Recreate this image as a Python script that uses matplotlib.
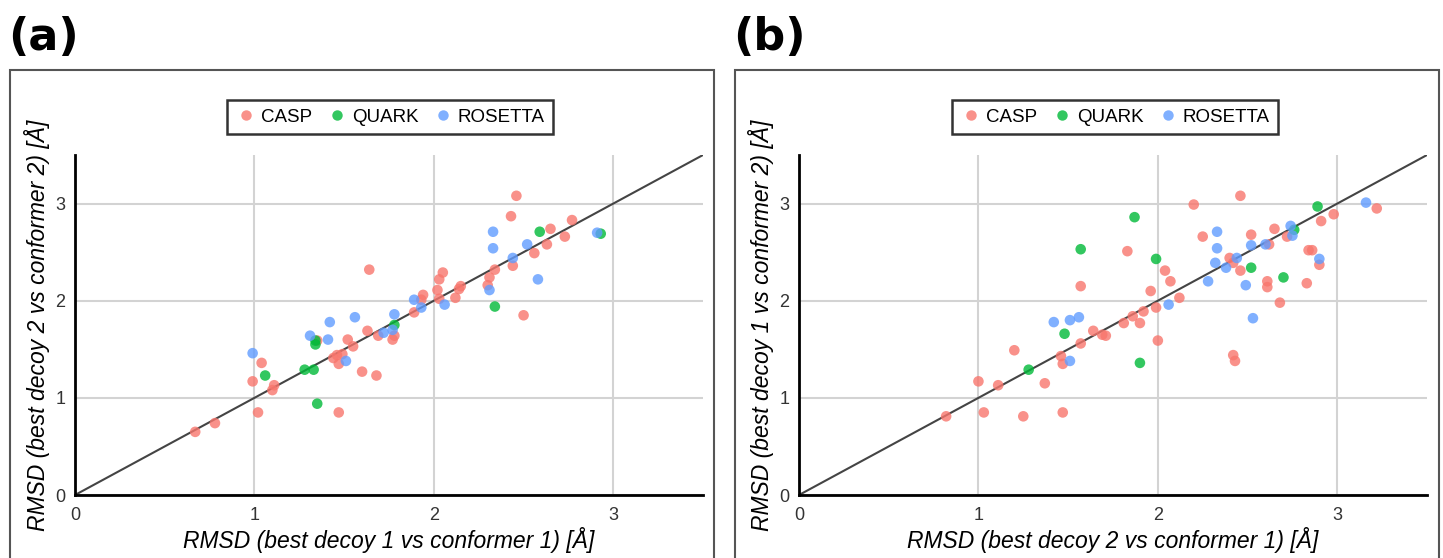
import matplotlib
matplotlib.use("Agg")
import matplotlib.pyplot as plt
from matplotlib.patches import Rectangle
from matplotlib.lines import Line2D

plt.rcParams["font.family"] = ["Liberation Sans", "DejaVu Sans"]

COLORS = {"CASP": "#F8766D", "QUARK": "#00BA38", "ROSETTA": "#619CFF"}
GROUPS = ["CASP", "QUARK", "ROSETTA"]

# panel (a): decoy 1 vs conformer 1 (x), decoy 2 vs conformer 2 (y)
a_casp_x = [0.67, 0.78, 0.99, 1.04, 1.02, 1.11, 1.10, 1.47, 1.60, 1.68, 1.64, 1.44, 1.47,
            1.49, 1.46, 1.52, 1.55, 1.63, 1.69, 1.78, 1.77, 1.89, 1.94, 1.93, 2.02, 2.03,
            2.05, 2.03, 2.12, 2.15, 2.14, 2.30, 2.31, 2.34, 2.44, 2.56, 2.63, 2.73, 2.65,
            2.77, 2.43, 2.46, 2.50, 1.35]
a_casp_y = [0.65, 0.74, 1.17, 1.36, 0.85, 1.13, 1.08, 0.85, 1.27, 1.23, 2.32, 1.41, 1.35,
            1.45, 1.44, 1.60, 1.53, 1.69, 1.64, 1.64, 1.60, 1.88, 2.06, 2.01, 2.11, 2.22,
            2.29, 2.02, 2.03, 2.15, 2.12, 2.16, 2.24, 2.32, 2.36, 2.49, 2.58, 2.66, 2.74,
            2.83, 2.87, 3.08, 1.85, 1.59]
a_quark_x = [1.06, 1.28, 1.33, 1.34, 1.34, 1.35, 1.78, 2.34, 2.59, 2.93]
a_quark_y = [1.23, 1.29, 1.29, 1.59, 1.55, 0.94, 1.75, 1.94, 2.71, 2.69]
a_rosetta_x = [0.99, 1.31, 1.41, 1.42, 1.56, 1.51, 1.72, 1.77, 1.78, 1.89, 1.93, 2.06,
               2.31, 2.33, 2.33, 2.44, 2.52, 2.58, 2.91]
a_rosetta_y = [1.46, 1.64, 1.60, 1.78, 1.83, 1.38, 1.67, 1.70, 1.86, 2.01, 1.93, 1.96,
               2.11, 2.71, 2.54, 2.44, 2.58, 2.22, 2.70]

# panel (b): decoy 2 vs conformer 1 (x), decoy 1 vs conformer 2 (y)
b_casp_x = [0.82, 1.00, 1.03, 1.11, 1.20, 1.25, 1.37, 1.47, 1.46, 1.47, 1.57, 1.57, 1.64,
            1.69, 1.71, 1.81, 1.86, 1.90, 1.92, 1.83, 1.96, 1.99, 2.00, 2.04, 2.07, 2.12,
            2.20, 2.25, 2.40, 2.42, 2.46, 2.42, 2.43, 2.46, 2.52, 2.62, 2.65, 2.72, 2.61,
            2.61, 2.68, 2.83, 2.84, 2.86, 2.90, 2.91, 2.98, 3.22]
b_casp_y = [0.81, 1.17, 0.85, 1.13, 1.49, 0.81, 1.15, 0.85, 1.43, 1.35, 1.56, 2.15, 1.69,
            1.65, 1.64, 1.77, 1.84, 1.77, 1.89, 2.51, 2.10, 1.93, 1.59, 2.31, 2.20, 2.03,
            2.99, 2.66, 2.44, 2.39, 2.31, 1.44, 1.38, 3.08, 2.68, 2.58, 2.74, 2.66, 2.20,
            2.14, 1.98, 2.18, 2.52, 2.52, 2.37, 2.82, 2.89, 2.95]
b_quark_x = [1.28, 1.48, 1.57, 1.87, 1.99, 1.90, 2.52, 2.70, 2.76, 2.89]
b_quark_y = [1.29, 1.66, 2.53, 2.86, 2.43, 1.36, 2.34, 2.24, 2.73, 2.97]
b_rosetta_x = [1.42, 1.51, 1.56, 1.51, 2.06, 2.28, 2.32, 2.33, 2.33, 2.38, 2.44, 2.49,
               2.52, 2.53, 2.60, 2.74, 2.75, 2.90, 3.16]
b_rosetta_y = [1.78, 1.80, 1.83, 1.38, 1.96, 2.20, 2.39, 2.71, 2.54, 2.34, 2.44, 2.16,
               2.57, 1.82, 2.58, 2.77, 2.67, 2.43, 3.01]

panels = [
    {
        "tag": "(a)",
        "data": {"CASP": (a_casp_x, a_casp_y), "QUARK": (a_quark_x, a_quark_y),
                 "ROSETTA": (a_rosetta_x, a_rosetta_y)},
        "xlabel": "RMSD (best decoy 1 vs conformer 1) [Å]",
        "ylabel": "RMSD (best decoy 2 vs conformer 2) [Å]",
    },
    {
        "tag": "(b)",
        "data": {"CASP": (b_casp_x, b_casp_y), "QUARK": (b_quark_x, b_quark_y),
                 "ROSETTA": (b_rosetta_x, b_rosetta_y)},
        "xlabel": "RMSD (best decoy 2 vs conformer 1) [Å]",
        "ylabel": "RMSD (best decoy 1 vs conformer 2) [Å]",
    },
]

W, H = 1443, 558
fig = plt.figure(figsize=(W / 100, H / 100), dpi=100)

offsets = [0, 725]
for panel, off in zip(panels, offsets):
    # frame around the panel
    fig.patches.append(Rectangle(((10 + off) / W, -0.05), 704 / W, 0.05 + (H - 70) / H,
                                 transform=fig.transFigure, fill=False,
                                 edgecolor="#555555", linewidth=1.5))
    fig.text((8 + off) / W, (H - 37) / H, panel["tag"], fontsize=32, fontweight="bold",
             family="DejaVu Sans", ha="left", va="center")

    ax = fig.add_axes([(75 + off - (1 if off else 0)) / W, (H - 495) / H, 628 / W, 340 / H])
    ax.set_xlim(0, 3.5)
    ax.set_ylim(0, 3.5)
    ax.set_xticks([0, 1, 2, 3])
    ax.set_yticks([0, 1, 2, 3])
    ax.grid(True, color="#d3d3d3", linewidth=1.5)
    ax.set_axisbelow(True)
    for side in ["top", "right"]:
        ax.spines[side].set_visible(False)
    for side in ["left", "bottom"]:
        ax.spines[side].set_linewidth(2)
        ax.spines[side].set_color("black")
    ax.tick_params(length=0, labelsize=13, colors="#333333")
    ax.tick_params(axis="x", pad=9)
    ax.tick_params(axis="y", pad=7)

    ax.plot([0, 3.5], [0, 3.5], color="#444444", linewidth=1.5, zorder=2)
    for g in GROUPS:
        xs, ys = panel["data"][g]
        ax.scatter(xs, ys, s=58, color=COLORS[g], alpha=0.8, edgecolors="none", zorder=3)

    ax.set_xlabel(panel["xlabel"], fontsize=16.5, style="italic", labelpad=2)
    ax.set_ylabel(panel["ylabel"], fontsize=16.5, style="italic", labelpad=4)

    handles = [Line2D([], [], marker="o", linestyle="none", markersize=7.5,
                      markerfacecolor=COLORS[g], markeredgecolor="none", alpha=0.8)
               for g in GROUPS]
    leg = fig.legend(handles, GROUPS, loc="center", ncol=3, fontsize=13.5,
                     bbox_to_anchor=((390 + off) / W, (H - 117) / H),
                     frameon=True, fancybox=False, edgecolor="black",
                     handletextpad=0.2, columnspacing=0.7, borderpad=0.45,
                     handlelength=1.2)
    leg.get_frame().set_linewidth(1.8)

fig.savefig("out.png", dpi=100)
